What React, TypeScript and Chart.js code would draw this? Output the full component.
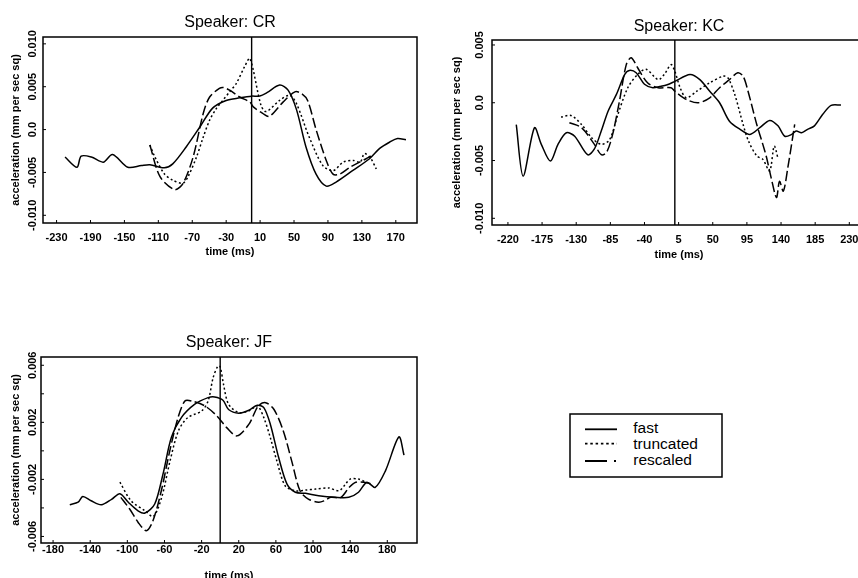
import React, { useEffect, useRef } from "react";
import { Chart, registerables } from "chart.js";

Chart.register(...registerables);

const FONT = "'Liberation Sans', Arial, Helvetica, sans-serif";

// ---------------- Speaker: CR ----------------
const crXTicks = [-230, -190, -150, -110, -70, -30, 10, 50, 90, 130, 170];
const crYTicks = [0.01, 0.005, 0, -0.005, -0.01];
const crYTickLabels = ["0.010", "0.005", "0.0", "-0.005", "-0.010"];
const crFastT = [-220, -206, -201, -189, -175, -164, -146, -130, -120, -103, -93, -77, -61, -46, -30, -14, 0, 9, 18, 33, 43, 53, 64, 76, 88, 100, 119, 139, 151, 163, 172, 182];
const crFastY = [-0.0032, -0.0044, -0.0031, -0.0032, -0.0038, -0.0029, -0.0044, -0.0042, -0.0041, -0.00445, -0.004, -0.002, 0.0003, 0.0025, 0.0034, 0.0037, 0.0039, 0.0039, 0.0043, 0.0052, 0.0046, 0.0023, -0.002, -0.0052, -0.0066, -0.0061, -0.0048, -0.0034, -0.0022, -0.00145, -0.00105, -0.0012];
const crTruncT = [-120, -114, -103, -93, -81, -75, -65, -57, -49.5, -41.6, -34, -26, -18, -8, -2, 11, 17, 33, 45, 53, 68, 84, 96, 108, 120, 128, 133, 140, 147];
const crTruncY = [-0.0018, -0.0032, -0.00515, -0.0059, -0.00625, -0.0055, -0.0032, -0.00087, 0.0011, 0.00246, 0.0034, 0.0044, 0.0054, 0.0074, 0.0083, 0.00285, 0.0021, 0.0034, 0.004, 0.003, -0.0009, -0.0042, -0.0048, -0.0038, -0.0036, -0.0038, -0.0028, -0.0033, -0.0046];
const crResT = [-120, -108, -91, -81, -69, -57, -49.5, -38, -33, -26, -14, -2, 2, 13, 21, 37, 51, 59, 66, 76, 88, 96, 104, 116, 135, 141];
const crResY = [-0.0018, -0.0055, -0.007, -0.0063, -0.0032, 0.0019, 0.0038, 0.0048, 0.0049, 0.0046, 0.0038, 0.0032, 0.00265, 0.0019, 0.00155, 0.0032, 0.0044, 0.0042, 0.0034, 0, -0.0036, -0.0052, -0.0052, -0.0044, -0.0034, -0.0031];

// ---------------- Speaker: KC ----------------
const kcXTicks = [-220, -175, -130, -85, -40, 5, 50, 95, 140, 185, 230];
const kcYTicks = [0.005, 0, -0.005, -0.01];
const kcYTickLabels = ["0.005", "0.0", "-0.005", "-0.010"];
const kcFastT = [-209, -200, -185, -176, -164, -154, -143, -132, -115, -106, -97, -88, -77, -66, -60, -51, -40, -29, -20, -10, 0, 20, 33, 46, 59, 72, 86, 99, 112, 125, 136, 145, 154, 160, 167, 175, 184, 195, 206, 219];
const kcFastY = [-0.0019, -0.00635, -0.00216, -0.0036, -0.00505, -0.0036, -0.0026, -0.0029, -0.0045, -0.004, -0.00245, -0.00073, 0.00072, 0.00245, 0.0028, 0.0026, 0.0016, 0.0013, 0.0014, 0.00155, 0.00185, 0.00245, 0.002, 0.001, 0, -0.0016, -0.0023, -0.00274, -0.00216, -0.00153, -0.002, -0.0029, -0.00274, -0.00245, -0.0026, -0.0023, -0.002, -0.001, -0.00023, -0.0002];
const kcTruncT = [-150, -137, -123, -110, -97, -86, -75, -62, -49, -38, -22, -14, -5, 0, 7, 15, 29, 46, 64, 70, 79, 90, 97, 108, 116, 125, 131, 136];
const kcTruncY = [-0.00124, -0.0011, -0.00188, -0.003, -0.0036, -0.0032, -0.001, 0.0013, 0.00245, 0.0029, 0.002, 0.00245, 0.0033, 0.00273, 0.0013, 0.00043, 0.001, 0.00173, 0.0023, 0.00216, 0.00072, -0.00188, -0.0033, -0.0046, -0.0049, -0.0059, -0.00375, -0.0048];
const kcResT = [-139, -123, -106, -97, -90, -82, -73, -64, -57.5, -49, -36, -22, -5, 0, 15, 31, 46, 59, 72, 83, 90, 96.5, 108, 116, 121, 127, 134, 138, 143, 149, 158];
const kcResY = [-0.00173, -0.00216, -0.0036, -0.0045, -0.0043, -0.00274, 0.00014, 0.0033, 0.0039, 0.00303, 0.00173, 0.0013, 0.0013, 0.001, 0.00029, 0, 0.00043, 0.0013, 0.002, 0.0026, 0.0023, 0.001, -0.00188, -0.0036, -0.00476, -0.0065, -0.0082, -0.0068, -0.00765, -0.0056, -0.00188];

// ---------------- Speaker: JF ----------------
const jfXTicks = [-180, -140, -100, -60, -20, 20, 60, 100, 140, 180];
const jfYTicks = [0.006, 0.002, -0.002, -0.006];
const jfYTickLabels = ["0.006", "0.002", "-0.002", "-0.006"];
const jfYMinorTicks = [0.004, 0, -0.004];
const jfFastT = [-162, -153, -148, -139, -128, -117, -108, -99, -88.5, -81, -70.5, -61.6, -52.6, -41.8, -27.3, -13, -6, 3, 9, 20, 31, 40, 47, 54, 63, 72, 81, 92, 106, 124, 138.5, 149, 158, 167, 178, 192.5, 198];
const jfFastY = [-0.00378, -0.0036, -0.0032, -0.0035, -0.00378, -0.0034, -0.003, -0.0036, -0.0042, -0.00436, -0.00373, -0.00163, 0.00093, 0.00233, 0.00327, 0.00373, 0.00378, 0.00355, 0.0029, 0.00264, 0.00285, 0.0032, 0.00303, 0.00187, -0.00047, -0.00233, -0.0029, -0.00298, -0.00315, -0.00326, -0.00326, -0.0029, -0.0022, -0.00256, -0.0014, 0.00098, -0.0003];
const jfTruncT = [-108, -96, -81, -72, -63, -54, -45, -35, -20, -13, -7.6, -2.5, 0, 3.6, 9, 20, 31, 40, 47, 54, 61, 70, 81, 92, 103, 117, 128, 135, 140, 149, 157];
const jfTruncY = [-0.0022, -0.0035, -0.0042, -0.0046, -0.00326, -0.0007, 0.0014, 0.00233, 0.0028, 0.0035, 0.00513, 0.00594, 0.0059, 0.00466, 0.00327, 0.00268, 0.0028, 0.00315, 0.00233, 0.00093, -0.0007, -0.00245, -0.0028, -0.00275, -0.00268, -0.0026, -0.0028, -0.00233, -0.00198, -0.00198, -0.0022];
const jfResT = [-107, -97.5, -88.5, -79.6, -72.4, -63.4, -54.3, -45.4, -38, -31, -16.5, -3.6, 7, 18, 31, 41, 49, 58, 68, 77, 86, 95, 106, 112, 119, 130, 139, 146, 155, 164];
const jfResY = [-0.00326, -0.00408, -0.005, -0.0056, -0.0049, -0.0028, 0, 0.00233, 0.0035, 0.0035, 0.00315, 0.00245, 0.00163, 0.00105, 0.00187, 0.00315, 0.00338, 0.0029, 0.0014, -0.0007, -0.0028, -0.00338, -0.0036, -0.0035, -0.00326, -0.00326, -0.00256, -0.0022, -0.0022, -0.00233];

const seriesNames = ["fast", "truncated", "rescaled"];
const DASHES: number[][] = [[], [2, 2.5], [10, 3.5]];

type Panel = {
  title: string;
  left: number; top: number; width: number; height: number;
  padTop: number; padRight: number; yAxisW: number; xAxisH: number;
  xMin: number; xMax: number; yMin: number; yMax: number;
  xTicks: number[]; yTicks: number[]; yTickLabels: string[]; yMinorTicks: number[];
  ts: number[][]; ys: number[][];
  xTickPad: number; yTitlePad: number; yLabelOffset: number; titleOffset: number;
};

const panels: Panel[] = [
  {
    title: "Speaker: CR", left: 0, top: 0, width: 430, height: 259,
    padTop: 37, padRight: 13, yAxisW: 43, xAxisH: 36,
    xMin: -246, xMax: 195, yMin: -0.0109, yMax: 0.0108,
    xTicks: crXTicks, yTicks: crYTicks, yTickLabels: crYTickLabels, yMinorTicks: [],
    ts: [crFastT, crTruncT, crResT], ys: [crFastY, crTruncY, crResY],
    xTickPad: 8, yTitlePad: 9.7, yLabelOffset: 10, titleOffset: 10.3,
  },
  {
    title: "Speaker: KC", left: 440, top: 0, width: 440, height: 262,
    padTop: 40, padRight: 14, yAxisW: 52, xAxisH: 37,
    xMin: -241, xMax: 252, yMin: -0.01058, yMax: 0.00543,
    xTicks: kcXTicks, yTicks: kcYTicks, yTickLabels: kcYTickLabels, yMinorTicks: [],
    ts: [kcFastT, kcTruncT, kcResT], ys: [kcFastY, kcTruncY, kcResY],
    xTickPad: 8.5, yTitlePad: 10.4, yLabelOffset: 12, titleOffset: 9.3,
  },
  {
    title: "Speaker: JF", left: 0, top: 330, width: 430, height: 253,
    padTop: 27, padRight: 13, yAxisW: 41, xAxisH: 40,
    xMin: -193, xMax: 212, yMin: -0.00646, yMax: 0.00658,
    xTicks: jfXTicks, yTicks: jfYTicks, yTickLabels: jfYTickLabels, yMinorTicks: jfYMinorTicks,
    ts: [jfFastT, jfTruncT, jfResT], ys: [jfFastY, jfTruncY, jfResY],
    xTickPad: 0.5, yTitlePad: 9.6, yLabelOffset: 8, titleOffset: 10,
  },
];

function framePlugin(p: Panel) {
  return {
    id: "frame",
    afterDraw(chart: any) {
      const { ctx, chartArea: a, scales } = chart;
      const xs = scales.x;
      const ys = scales.y;
      ctx.save();
      ctx.strokeStyle = "#000";
      ctx.lineWidth = 1.5;
      ctx.strokeRect(a.left, a.top, a.right - a.left, a.bottom - a.top);
      ctx.lineWidth = 1;
      ctx.beginPath();
      for (const v of p.xTicks) {
        const px = xs.getPixelForValue(v);
        ctx.moveTo(px, a.bottom);
        ctx.lineTo(px, a.bottom - 3);
      }
      for (const v of [...p.yTicks, ...p.yMinorTicks]) {
        const py = ys.getPixelForValue(v);
        ctx.moveTo(a.left, py);
        ctx.lineTo(a.left + 3, py);
      }
      ctx.stroke();
      ctx.fillStyle = "#000";
      ctx.font = `bold 11px ${FONT}`;
      ctx.textAlign = "center";
      ctx.textBaseline = "middle";
      p.yTicks.forEach((v, i) => {
        const py = ys.getPixelForValue(v);
        ctx.save();
        ctx.translate(a.left - p.yLabelOffset, py);
        ctx.rotate(-Math.PI / 2);
        ctx.fillText(p.yTickLabels[i], 0, 0);
        ctx.restore();
      });
      ctx.font = `16px ${FONT}`;
      ctx.textBaseline = "alphabetic";
      ctx.fillText(p.title, (a.left + a.right) / 2, a.top - p.titleOffset);
      ctx.restore();
    },
  };
}

function PanelChart({ p }: { p: Panel }) {
  const ref = useRef<HTMLCanvasElement | null>(null);
  useEffect(() => {
    if (!ref.current) return;
    const datasets: any[] = p.ts.map((t, k) => ({
      label: seriesNames[k],
      data: t.map((x, i) => ({ x, y: p.ys[k][i] })),
      borderColor: "#000",
      borderWidth: 1.5,
      borderDash: DASHES[k],
      pointRadius: 0,
      tension: 0.3,
      fill: false,
    }));
    datasets.push({
      label: "t0",
      data: [{ x: 0, y: p.yMin }, { x: 0, y: p.yMax }],
      borderColor: "#000",
      borderWidth: 1.4,
      pointRadius: 0,
      tension: 0,
      fill: false,
    });
    const chart = new Chart(ref.current, {
      type: "line",
      data: { datasets },
      options: {
        animation: false,
        responsive: false,
        maintainAspectRatio: false,
        layout: { padding: { left: 0, top: p.padTop, right: p.padRight, bottom: 0 } },
        plugins: { legend: { display: false }, tooltip: { enabled: false }, title: { display: false } },
        scales: {
          x: {
            type: "linear",
            min: p.xMin,
            max: p.xMax,
            afterBuildTicks: (s: any) => { s.ticks = p.xTicks.map((v) => ({ value: v })); },
            afterFit: (s: any) => { s.height = p.xAxisH; },
            grid: { display: false, drawTicks: false },
            border: { display: false },
            ticks: { color: "#000", font: { family: FONT, size: 11, weight: "bold" }, padding: p.xTickPad, autoSkip: false, maxRotation: 0, minRotation: 0 },
            title: { display: true, text: "time (ms)", color: "#000", font: { family: FONT, size: 11, weight: "bold" }, padding: { top: 0, bottom: 0 } },
          },
          y: {
            type: "linear",
            min: p.yMin,
            max: p.yMax,
            afterBuildTicks: (s: any) => { s.ticks = p.yTicks.map((v) => ({ value: v })); },
            afterFit: (s: any) => { s.width = p.yAxisW; },
            grid: { display: false, drawTicks: false },
            border: { display: false },
            ticks: { display: false },
            title: { display: true, text: "acceleration (mm per sec sq)", color: "#000", font: { family: FONT, size: 11, weight: "bold" }, padding: { top: p.yTitlePad, bottom: 0 } },
          },
        },
      } as any,
      plugins: [framePlugin(p)],
    });
    return () => chart.destroy();
  }, [p]);
  return (
    <canvas
      ref={ref}
      width={p.width}
      height={p.height}
      style={{ position: "absolute", left: p.left, top: p.top, width: p.width, height: p.height }}
    />
  );
}

function Legend() {
  const rows = [24.3, 38.7, 56];
  const base = [28.3, 43.5, 60];
  const dashes = ["none", "2.5 2.8", "22 7 2 30"];
  return (
    <svg width={180} height={85} style={{ position: "absolute", left: 560, top: 405 }}>
      <rect x={10} y={9} width={152} height={63} fill="white" stroke="#000" strokeWidth={1.5} />
      {seriesNames.map((n, i) => (
        <g key={n}>
          <line x1={25} x2={57} y1={rows[i]} y2={rows[i]} stroke="#000" strokeWidth={1.8} strokeDasharray={dashes[i]} />
          <text x={73.3} y={base[i]} fontFamily={FONT} fontSize={15.5} fill="#000">{n}</text>
        </g>
      ))}
    </svg>
  );
}

export default function App() {
  return (
    <div style={{ position: "fixed", left: 0, top: 0, width: 858, height: 578, overflow: "hidden", background: "#fff" }}>
      {panels.map((p) => (
        <PanelChart key={p.title} p={p} />
      ))}
      <Legend />
    </div>
  );
}
